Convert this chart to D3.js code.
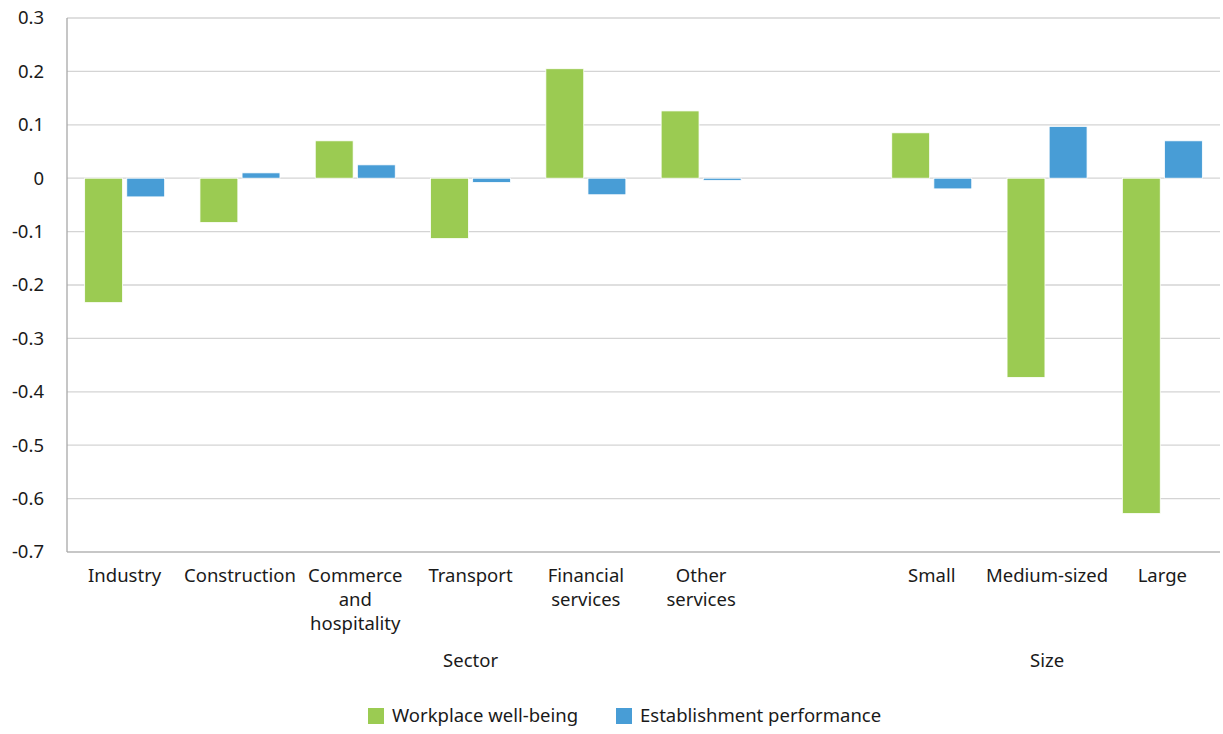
<!DOCTYPE html>
<html>
<head>
<meta charset="utf-8">
<script src="https://cdn.jsdelivr.net/npm/d3@7"></script>
<style>
  body { margin: 0; background: #fff; }
  text { font-family: "Noto Sans", sans-serif; fill: #1a1a1a; }
</style>
</head>
<body>
<div id="chart"></div>
<script>
// categories (empty slot separates Sector and Size groups)
var categories = ["Industry", "Construction", "Commerce and hospitality", "Transport",
  "Financial services", "Other services", "", "Small", "Medium-sized", "Large"]
var wellbeing = [-0.233, -0.083, 0.070, -0.113, 0.205, 0.126, null, 0.085, -0.373, -0.628]
var performance = [-0.035, 0.010, 0.025, -0.008, -0.031, -0.004, null, -0.020, 0.097, 0.070]
var seriesNames = ["Workplace well-being", "Establishment performance"]
var colors = ["#9bcb52", "#489dd6"]
var yTicks = [0.3, 0.2, 0.1, 0, -0.1, -0.2, -0.3, -0.4, -0.5, -0.6, -0.7]
var groups = [{name: "Sector", from: 0, to: 6}, {name: "Size", from: 7, to: 9}]

var width = 1223, height = 734
var margin = {top: 18, right: 3, bottom: 182, left: 67}
var fs = 18.5

var svg = d3.select("#chart").append("svg")
  .attr("width", width).attr("height", height)

var x = d3.scaleBand()
  .domain(d3.range(categories.length))
  .range([margin.left, width - margin.right])
  .paddingInner(0).paddingOuter(0)

var xs = d3.scaleBand()
  .domain([0, 1])
  .range([x.bandwidth() / 2 - 40, x.bandwidth() / 2 + 40])
  .paddingInner(0.1)

var y = d3.scaleLinear()
  .domain([-0.7, 0.3])
  .range([height - margin.bottom, margin.top])

// gridlines
svg.append("g").selectAll("line")
  .data(yTicks)
  .enter().append("line")
  .attr("x1", margin.left).attr("x2", width - margin.right)
  .attr("y1", function(d) { return y(d) }).attr("y2", function(d) { return y(d) })
  .attr("stroke", function(d) { return d === -0.7 ? "#b5b5b5" : "#d4d4d4" })
  .attr("stroke-width", 1.3)

// y axis line
svg.append("line")
  .attr("x1", margin.left).attr("x2", margin.left)
  .attr("y1", y(0.3)).attr("y2", y(-0.7))
  .attr("stroke", "#a8a8a8").attr("stroke-width", 1.3)

// y labels (plain hyphen minus, like the original)
svg.append("g").selectAll("text")
  .data(yTicks)
  .enter().append("text")
  .attr("x", 44).attr("y", function(d) { return y(d) })
  .attr("dy", "0.35em")
  .attr("text-anchor", "end")
  .style("font-size", fs + "px")
  .text(function(d) { return d === 0 ? "0" : d.toFixed(1) })

// bars
var series = [wellbeing, performance]
series.forEach(function(vals, s) {
  svg.append("g").selectAll("rect")
    .data(vals.map(function(v, i) { return {i: i, v: v} }).filter(function(d) { return d.v !== null }))
    .enter().append("rect")
    .attr("x", function(d) { return x(d.i) + xs(s) })
    .attr("width", xs.bandwidth())
    .attr("y", function(d) { return y(Math.max(0, d.v)) })
    .attr("height", function(d) { return Math.abs(y(d.v) - y(0)) })
    .attr("fill", colors[s])
    .attr("stroke", "#fff").attr("stroke-width", 0.8)
})

// category labels with wrapping
function wrapLines(str, maxW, size) {
  var words = str.split(" "), lines = [], cur = ""
  var tmp = svg.append("text").style("font-size", size + "px")
  words.forEach(function(w) {
    var test = cur ? cur + " " + w : w
    tmp.text(test)
    if (tmp.node().getComputedTextLength() > maxW && cur) { lines.push(cur); cur = w }
    else cur = test
  })
  if (cur) lines.push(cur)
  tmp.remove()
  return lines
}

var labels = svg.append("g")
categories.forEach(function(c, i) {
  if (!c) return
  var lines = wrapLines(c, x.bandwidth(), fs)
  var t = labels.append("text")
    .attr("text-anchor", "middle")
    .style("font-size", fs + "px")
  lines.forEach(function(l, k) {
    t.append("tspan")
      .attr("x", x(i) + x.bandwidth() / 2)
      .attr("y", 582 + k * 24)
      .text(l)
  })
})

// group labels
svg.append("g").selectAll("text")
  .data(groups)
  .enter().append("text")
  .attr("x", function(d) { return (x(d.from) + x(d.to) + x.bandwidth()) / 2 })
  .attr("y", 667)
  .attr("text-anchor", "middle")
  .style("font-size", fs + "px")
  .text(function(d) { return d.name })

// legend
var legendX = [368, 616]
var lg = svg.append("g").selectAll("g")
  .data(seriesNames)
  .enter().append("g")
  .attr("transform", function(d, i) { return "translate(" + legendX[i] + ",708)" })
lg.append("rect").attr("width", 16).attr("height", 16)
  .attr("fill", function(d, i) { return colors[i] })
lg.append("text").attr("x", 24).attr("y", 8).attr("dy", "0.35em")
  .style("font-size", fs + "px")
  .text(function(d) { return d })
</script>
</body>
</html>
